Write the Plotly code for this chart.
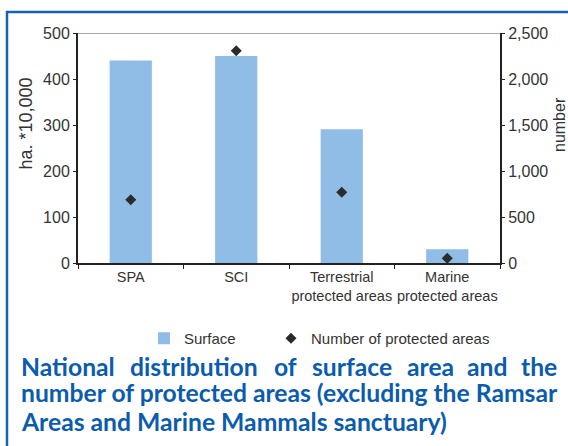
import plotly.graph_objects as go

categories = ["SPA", "SCI", "Terrestrial<br>protected areas", "Marine<br>protected areas"]
surface = [440, 450, 291, 30]
number_of_areas = [687, 2307, 770, 51]
left_ticks = [0, 100, 200, 300, 400, 500]
right_ticks = [0, 500, 1000, 1500, 2000, 2500]
right_tick_labels = ["0", "500", "1,000", "1,500", "2,000", "2,500"]

W, H = 568, 446
L, R, T, B = 78, 68, 33, 183
PW, PH = W - L - R, H - T - B

def px_x(x):
    return (x - L) / PW

def px_y(y):
    return (H - B - y) / PH

fig = go.Figure()
fig.add_trace(go.Bar(x=categories, y=surface, name="Surface",
                     marker=dict(color="#8fbde6", line=dict(width=0)),
                     width=0.4, yaxis="y", legend="legend"))
fig.add_trace(go.Scatter(x=categories, y=number_of_areas, name="Number of protected areas",
                         mode="markers", yaxis="y2", legend="legend2",
                         marker=dict(symbol="diamond", size=8.5, color="#2b2b2b")))

FONT = "Liberation Sans, Arial, sans-serif"
axis_font = dict(family=FONT, size=16, color="#333333")
leg_font = dict(family=FONT, size=15, color="#333333")
fig.update_layout(
    width=W, height=H,
    margin=dict(l=L, r=R, t=T, b=B, pad=0, autoexpand=False),
    paper_bgcolor="white", plot_bgcolor="white",
    font=axis_font,
    xaxis=dict(showline=True, linecolor="#222222", linewidth=2,
               ticks="outside", ticklen=4, tickcolor="#222222", tickson="boundaries",
               tickangle=0, automargin=False,
               tickfont=dict(family=FONT, size=14.5, color="#333333"),
               showgrid=False, zeroline=False, fixedrange=True),
    yaxis=dict(range=[0, 500], tickvals=left_ticks, showline=True, linecolor="#222222",
               linewidth=2, ticks="outside", ticklen=3, tickcolor="#222222", automargin=False,
               showgrid=False, zeroline=False, tickfont=axis_font, fixedrange=True),
    yaxis2=dict(range=[0, 2500], tickvals=right_ticks, ticktext=right_tick_labels,
                overlaying="y", side="right", showline=True, linecolor="#222222",
                linewidth=2, ticks="outside", ticklen=3, tickcolor="#222222", automargin=False,
                showgrid=False, zeroline=False, tickfont=axis_font, fixedrange=True),
    showlegend=True,
    legend=dict(orientation="h", x=px_x(144), xanchor="left", y=px_y(338.5), yanchor="middle",
                font=leg_font, bgcolor="rgba(0,0,0,0)", itemwidth=30),
    legend2=dict(orientation="h", x=px_x(271), xanchor="left", y=px_y(338.5), yanchor="middle",
                 font=leg_font, bgcolor="rgba(0,0,0,0)", itemwidth=30),
)

# top gridline
fig.add_shape(type="line", xref="paper", yref="y", x0=0, x1=1, y0=500, y1=500,
              line=dict(color="#8c8c8c", width=1.5), layer="below")

# frame (top + left edges)
frame_col = "#1a5fb0"
fig.add_shape(type="line", xref="paper", yref="paper", x0=px_x(6), x1=px_x(600),
              y0=px_y(12), y1=px_y(12), line=dict(color=frame_col, width=2.5))
fig.add_shape(type="line", xref="paper", yref="paper", x0=px_x(7), x1=px_x(7),
              y0=px_y(11), y1=px_y(460), line=dict(color=frame_col, width=2.5))

# axis titles
fig.add_annotation(text="ha. *10,000", xref="paper", yref="paper", x=px_x(25.5), y=px_y(124),
                   textangle=-90, showarrow=False, xanchor="center", yanchor="middle",
                   font=dict(family=FONT, size=18, color="#333333"))
fig.add_annotation(text="number", xref="paper", yref="paper", x=px_x(559), y=px_y(125),
                   textangle=-90, showarrow=False, xanchor="center", yanchor="middle",
                   font=dict(family=FONT, size=16, color="#333333"))

# caption
cap_font = dict(family="Lato, sans-serif", size=24.7, color="#0b5cad")
line1_words = ["National", "distribution", "of", "surface", "area", "and", "the"]
line1_centers = [68, 194, 285, 352, 430, 487, 539]
for w, cx in zip(line1_words, line1_centers):
    fig.add_annotation(text="<b>%s</b>" % w, xref="paper", yref="paper", x=px_x(cx), y=px_y(366),
                       showarrow=False, xanchor="center", yanchor="middle", font=cap_font)
fig.add_annotation(text="<b>number of protected areas (excluding the Ramsar</b>", xref="paper", yref="paper",
                   x=px_x(19), y=px_y(393), showarrow=False, xanchor="left", yanchor="middle", font=cap_font)
fig.add_annotation(text="<b>Areas and Marine Mammals sanctuary)</b>", xref="paper", yref="paper",
                   x=px_x(19), y=px_y(421), showarrow=False, xanchor="left", yanchor="middle", font=cap_font)

fig.write_html("out.html", config={"displayModeBar": False},
               post_script="document.body.style.margin='0';document.body.style.overflow='hidden';")
